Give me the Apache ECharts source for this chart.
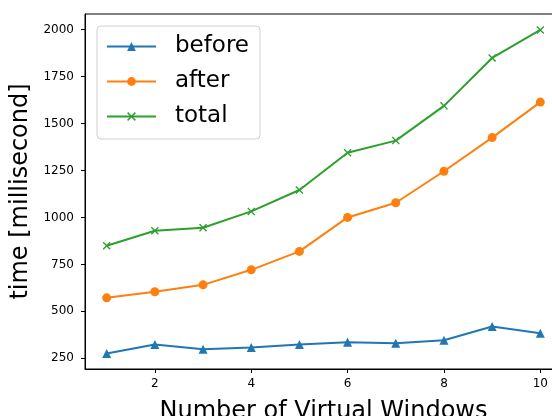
<!DOCTYPE html>
<html>
<head>
<meta charset="utf-8">
<script src="https://cdn.jsdelivr.net/npm/echarts@6/dist/echarts.min.js"></script>
<style>
html,body{margin:0;padding:0;background:#fff;}
#chart{width:552px;height:416px;}
</style>
</head>
<body>
<div id="chart"></div>
<script>
const xValues = [1, 2, 3, 4, 5, 6, 7, 8, 9, 10];
const beforeValues = [275, 323, 298, 307, 324, 335, 330, 346, 419, 383];
const afterValues = [572, 604, 641, 721, 819, 1000, 1078, 1246, 1425, 1614];
const totalValues = [849, 929, 945, 1032, 1146, 1344, 1409, 1594, 1849, 1998];
const xTicks = [2, 4, 6, 8, 10];
const yTicks = [250, 500, 750, 1000, 1250, 1500, 1750, 2000];
const seriesNames = ['before', 'after', 'total'];

const pairs = vals => xValues.map((x, i) => [x, vals[i]]);
const font = 'DejaVu Sans';
const xSymbol = 'path://M0,1.2 L1.2,0 L5,3.8 L8.8,0 L10,1.2 L6.2,5 L10,8.8 L8.8,10 L5,6.2 L1.2,10 L0,8.8 L3.8,5 Z';

const chart = echarts.init(document.getElementById('chart'), null, {renderer: 'canvas'});
chart.setOption({
  animation: false,
  backgroundColor: '#fff',
  grid: {
    left: 85, top: 14, width: 477, height: 355,
    containLabel: false, outerBoundsMode: 'none',
    show: true, borderColor: '#000', borderWidth: 1, backgroundColor: 'transparent'
  },
  legend: {
    orient: 'vertical',
    left: 97, top: 26,
    data: seriesNames,
    itemWidth: 49, itemHeight: 11, itemGap: 10,
    padding: [8, 11, 10, 9],
    borderColor: '#d0d0d0', borderWidth: 1, borderRadius: 4,
    backgroundColor: '#fff',
    textStyle: {fontFamily: font, fontSize: 23, color: '#000', lineHeight: 25, padding: [0, 0, 0, 14]}
  },
  xAxis: {
    type: 'value', min: 0.55, max: 10.45,
    name: 'Number of Virtual Windows', nameLocation: 'middle', nameGap: 31,
    nameTextStyle: {fontFamily: font, fontSize: 24, color: '#000'},
    splitLine: {show: false},
    axisLine: {show: true, lineStyle: {color: '#000', width: 1}},
    axisTick: {show: true, inside: false, length: 4, lineStyle: {color: '#000'}, customValues: xTicks},
    axisLabel: {fontFamily: font, fontSize: 12, color: '#000', margin: 9, customValues: xTicks,
      formatter: v => String(v)}
  },
  yAxis: {
    type: 'value', min: 193, max: 2083,
    name: 'time [millisecond]', nameLocation: 'middle', nameGap: 47,
    nameTextStyle: {fontFamily: font, fontSize: 24, color: '#000'},
    splitLine: {show: false},
    axisLine: {show: true, lineStyle: {color: '#000', width: 1}},
    axisTick: {show: true, inside: false, length: 4, lineStyle: {color: '#000'}, customValues: yTicks},
    axisLabel: {fontFamily: font, fontSize: 12, color: '#000', margin: 11, customValues: yTicks,
      formatter: v => String(v)}
  },
  series: [
    {
      name: seriesNames[0], type: 'line', data: pairs(beforeValues),
      symbol: 'triangle', symbolSize: 9, showAllSymbol: true,
      itemStyle: {color: '#1f77b4'}, lineStyle: {color: '#1f77b4', width: 2}
    },
    {
      name: seriesNames[1], type: 'line', data: pairs(afterValues),
      symbol: 'circle', symbolSize: 9, showAllSymbol: true,
      itemStyle: {color: '#ff7f0e'}, lineStyle: {color: '#ff7f0e', width: 2}
    },
    {
      name: seriesNames[2], type: 'line', data: pairs(totalValues),
      symbol: xSymbol, symbolSize: 8, showAllSymbol: true,
      itemStyle: {color: '#2ca02c'}, lineStyle: {color: '#2ca02c', width: 2}
    }
  ]
});
</script>
</body>
</html>
